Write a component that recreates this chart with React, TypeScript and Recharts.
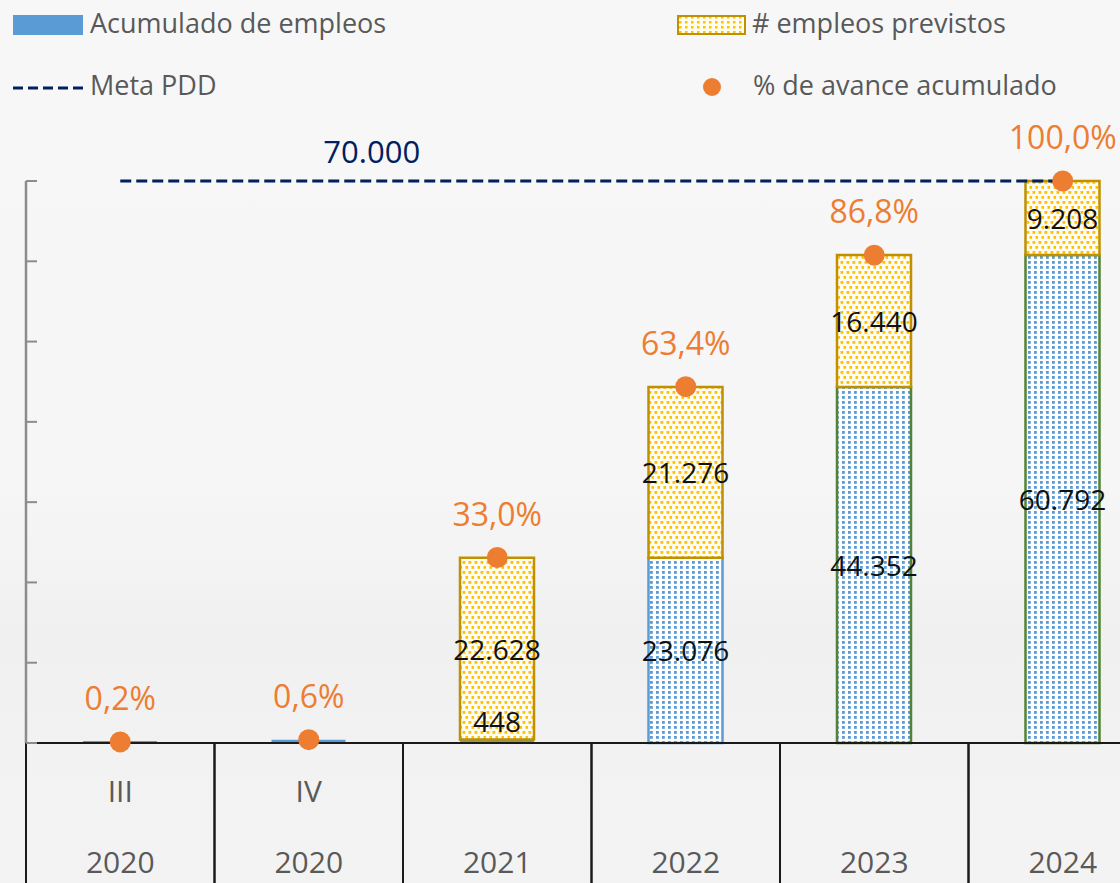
import React from "react";
import {
  Bar,
  Cell,
  ComposedChart,
  LabelList,
  Line,
  XAxis,
  YAxis,
} from "recharts";

// Datos (empleos, meta PDD)
const categorias = ["III 2020", "IV 2020", "2021", "2022", "2023", "2024"];
const trimestres = ["III", "IV", "", "", "", ""];
const anios = ["2020", "2020", "2021", "2022", "2023", "2024"];
const acumulado = [140, 420, 448, 23076, 44352, 60792];
const previstos = [0, 0, 22628, 21276, 16440, 9208];
const meta = [70000, 70000, 70000, 70000, 70000, 70000];
const avance = [0.2, 0.6, 33.0, 63.4, 86.8, 100.0];
const conEtiqueta = [false, false, true, true, true, true];
const yTicks = [0, 10000, 20000, 30000, 40000, 50000, 60000, 70000];

const data = categorias.map((categoria, i) => ({
  categoria,
  acumulado: acumulado[i],
  previstos: previstos[i],
  meta: meta[i],
  avance: avance[i],
}));

const W = 1157;
const H = 883;
const LEFT = 26;
const BAND = (W - LEFT) / categorias.length;

const AZUL = "#5B9BD5";
const VERDE = "#548235";
const ORO = "#BF9000";
const NARANJA = "#ED7D31";
const MARINO = "#002060";
const GRIS = "#595959";
const FONT = "'Open Sans', sans-serif";

const fillAcum = [AZUL, AZUL, AZUL, "url(#dotsBlue)", "url(#dotsBlue)", "url(#dotsBlue)"];
const strokeAcum = ["none", "none", "none", AZUL, VERDE, VERDE];

const miles = (v: number) => String(v).replace(/\B(?=(\d{3})+(?!\d))/g, ".");
const pct = (v: number) => v.toFixed(1).replace(".", ",") + "%";

function YTick({ x, y }: any) {
  return <line x1={x} y1={y} x2={x + 11} y2={y} stroke="#8c8c8c" strokeWidth={2} />;
}

function XTick({ x, y, payload }: any) {
  const i = payload.index;
  return (
    <g>
      <line x1={x - BAND / 2} y1={y} x2={x - BAND / 2} y2={H} stroke="#1a1a1a" strokeWidth={2} />
      <line x1={x + BAND / 2} y1={y} x2={x + BAND / 2} y2={H} stroke="#1a1a1a" strokeWidth={2} />
      <text x={x} y={y + 59} textAnchor="middle" fontSize={30} fill={GRIS} fontFamily={FONT}>
        {trimestres[i]}
      </text>
      <text x={x} y={y + 130} textAnchor="middle" fontSize={30} fill={GRIS} fontFamily={FONT}>
        {anios[i]}
      </text>
    </g>
  );
}

function AcumLabel({ x, y, width, height, value, index }: any) {
  if (!conEtiqueta[index]) return null;
  const cx = x + width / 2;
  const small = Math.abs(height) < 30;
  return (
    <text
      x={cx}
      y={small ? y - 7 : y + height / 2}
      textAnchor="middle"
      dominantBaseline={small ? "auto" : "central"}
      fontSize={28}
      fill="#111"
      fontFamily={FONT}
    >
      {miles(value)}
    </text>
  );
}

function PrevLabel({ x, y, width, height, value }: any) {
  if (!value) return null;
  return (
    <text
      x={x + width / 2}
      y={y + height / 2}
      textAnchor="middle"
      dominantBaseline="central"
      fontSize={28}
      fill="#111"
      fontFamily={FONT}
    >
      {miles(value)}
    </text>
  );
}

function AvanceLabel({ x, y, value }: any) {
  return (
    <text x={x} y={y - 32} textAnchor="middle" fontSize={32} fill={NARANJA} fontFamily={FONT}>
      {pct(value)}
    </text>
  );
}

function MetaLabel({ x, y, value, index }: any) {
  if (index !== 1) return null;
  return (
    <text x={x + 63} y={y - 18} textAnchor="middle" fontSize={31} fill={MARINO} fontFamily={FONT}>
      {miles(value)}
    </text>
  );
}

function Leyenda() {
  return (
    <svg width={1120} height={110} style={{ position: "absolute", left: 0, top: 0 }}>
      <defs>
        <pattern id="dotsYellowLeg" width={6} height={5} patternUnits="userSpaceOnUse">
          <rect width={6} height={5} fill="#fffdf0" />
          <rect x={1} y={1} width={2.5} height={2.5} fill="#FFC000" />
        </pattern>
      </defs>
      <rect x={13} y={15} width={70} height={20} fill={AZUL} />
      <text x={90} y={33} fontSize={27} fill={GRIS} fontFamily={FONT}>Acumulado de empleos</text>
      <rect x={678} y={16} width={67} height={18} fill="url(#dotsYellowLeg)" stroke={ORO} strokeWidth={2} />
      <text x={752} y={33} fontSize={27} fill={GRIS} fontFamily={FONT}># empleos previstos</text>
      <line x1={13} y1={88} x2={83} y2={88} stroke={MARINO} strokeWidth={3} strokeDasharray="10 5" />
      <text x={90} y={95} fontSize={27} fill={GRIS} fontFamily={FONT}>Meta PDD</text>
      <circle cx={712} cy={87} r={9} fill={NARANJA} />
      <text x={753} y={95} fontSize={27} fill={GRIS} fontFamily={FONT}>% de avance acumulado</text>
    </svg>
  );
}

export default function App() {
  return (
    <div
      style={{
        position: "absolute",
        left: 0,
        top: 0,
        width: 1120,
        height: H,
        overflow: "hidden",
        fontFamily: FONT,
        background:
          "linear-gradient(180deg, #f7f7f7 0%, #f6f6f6 55%, #f0f0f0 72%, #f2f2f2 85%, #f3f3f3 100%)",
      }}
    >
      <Leyenda />
      <div style={{ position: "absolute", left: 0, top: 0 }}>
        <ComposedChart
          width={W}
          height={H}
          data={data}
          margin={{ top: 181, right: 0, bottom: 0, left: 0 }}
          barSize={74}
        >
          <defs>
            <pattern id="dotsBlue" width={6} height={5} patternUnits="userSpaceOnUse">
              <rect width={6} height={5} fill="#ffffff" />
              <rect x={2} y={1} width={2.8} height={2.8} fill={AZUL} />
            </pattern>
            <pattern id="dotsYellow" width={6} height={10} patternUnits="userSpaceOnUse">
              <rect width={6} height={10} fill="#fffdf2" />
              <rect x={0.5} y={1} width={2.8} height={2.8} fill="#FFC000" />
              <rect x={3.5} y={6} width={2.8} height={2.8} fill="#FFC000" />
            </pattern>
          </defs>
          <XAxis
            dataKey="categoria"
            height={H - 743}
            interval={0}
            tickLine={false}
            tickSize={0}
            tickMargin={0}
            axisLine={{ stroke: "#1a1a1a", strokeWidth: 2 }}
            tick={<XTick />}
          />
          <YAxis
            yAxisId="emp"
            width={LEFT}
            domain={[0, 70000]}
            ticks={yTicks}
            tickLine={false}
            tickSize={0}
            tickMargin={0}
            axisLine={{ stroke: "#8c8c8c", strokeWidth: 2.5 }}
            tick={<YTick />}
          />
          <YAxis yAxisId="pct" orientation="right" hide domain={[0, 100]} />
          <Bar
            yAxisId="emp"
            dataKey="acumulado"
            stackId="a"
            strokeWidth={2.5}
            minPointSize={2}
            isAnimationActive={false}
          >
            {data.map((_, i) => (
              <Cell key={i} fill={fillAcum[i]} stroke={strokeAcum[i]} />
            ))}
            <LabelList dataKey="acumulado" content={<AcumLabel />} />
          </Bar>
          <Bar
            yAxisId="emp"
            dataKey="previstos"
            stackId="a"
            fill="url(#dotsYellow)"
            stroke={ORO}
            strokeWidth={2.5}
            isAnimationActive={false}
          >
            <LabelList dataKey="previstos" content={<PrevLabel />} />
          </Bar>
          <Line
            yAxisId="emp"
            dataKey="meta"
            stroke={MARINO}
            strokeWidth={3}
            strokeDasharray="11 5"
            dot={false}
            activeDot={false}
            isAnimationActive={false}
          >
            <LabelList dataKey="meta" content={<MetaLabel />} />
          </Line>
          <Line
            yAxisId="pct"
            dataKey="avance"
            stroke="none"
            dot={{ r: 10.5, fill: NARANJA, stroke: "none" }}
            activeDot={false}
            isAnimationActive={false}
          >
            <LabelList dataKey="avance" content={<AvanceLabel />} />
          </Line>
        </ComposedChart>
      </div>
    </div>
  );
}
